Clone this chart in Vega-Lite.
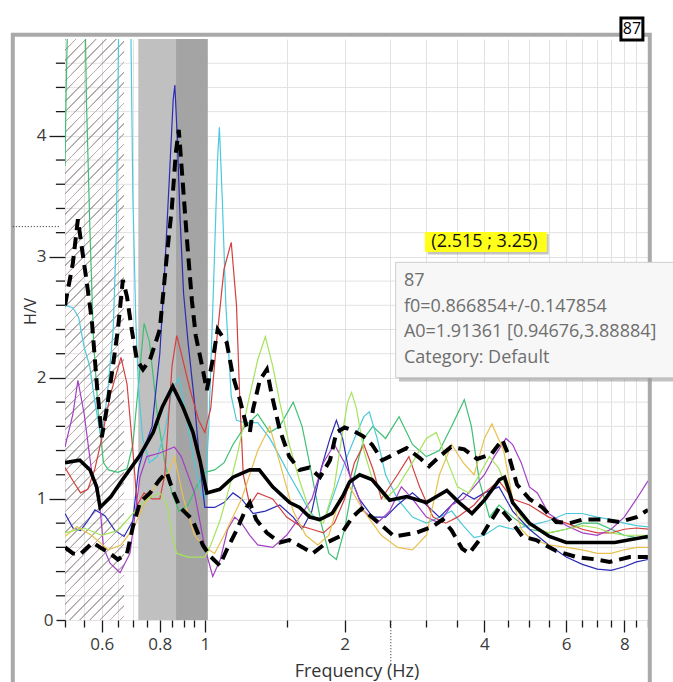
{
"$schema": "https://vega.github.io/schema/vega-lite/v6.json",
"width": 583, "height": 581,
"autosize": {"type": "none"},
"padding": {"left": 65, "top": 39, "right": 25, "bottom": 62},
"background": "white",
"config": {"view": {"stroke": null}, "font": "Open Sans", "axis": {"labelOverlap": false}},
"datasets": {
"yminor": [{"v":0.2},{"v":0.4},{"v":0.6},{"v":0.8},{"v":1.2},{"v":1.4},{"v":1.6},{"v":1.8},{"v":2.2},{"v":2.4},{"v":2.6},{"v":2.8},{"v":3.2},{"v":3.4},{"v":3.6},{"v":3.8},{"v":4.2},{"v":4.4},{"v":4.6}],
"curves": [
{"s":"green","f":0.5,"v":3.75},{"s":"green","f":0.503,"v":4.4},{"s":"green","f":0.51,"v":5.5},{"s":"green","f":0.55,"v":5.5},{"s":"green","f":0.556,"v":4.3},{"s":"green","f":0.566,"v":3.2},{"s":"green","f":0.576,"v":2.3},{"s":"green","f":0.59,"v":1.7},{"s":"green","f":0.605,"v":1.3},{"s":"green","f":0.62,"v":1.24},{"s":"green","f":0.65,"v":1.22},{"s":"green","f":0.68,"v":1.25},{"s":"green","f":0.7,"v":1.45},{"s":"green","f":0.72,"v":1.95},{"s":"green","f":0.74,"v":2.45},{"s":"green","f":0.76,"v":2.3},{"s":"green","f":0.79,"v":1.7},{"s":"green","f":0.82,"v":1.3},{"s":"green","f":0.85,"v":1.05},{"s":"green","f":0.88,"v":0.9},{"s":"green","f":0.92,"v":0.95},{"s":"green","f":0.96,"v":1.1},{"s":"green","f":1.0,"v":1.22},{"s":"green","f":1.05,"v":1.24},{"s":"green","f":1.1,"v":1.3},{"s":"green","f":1.15,"v":1.45},{"s":"green","f":1.22,"v":1.6},{"s":"green","f":1.3,"v":1.7},{"s":"green","f":1.38,"v":1.55},{"s":"green","f":1.45,"v":1.6},{"s":"green","f":1.55,"v":1.8},{"s":"green","f":1.62,"v":1.6},{"s":"green","f":1.7,"v":1.2},{"s":"green","f":1.78,"v":0.8},{"s":"green","f":1.85,"v":0.55},{"s":"green","f":1.92,"v":0.5},{"s":"green","f":2.0,"v":0.75},{"s":"green","f":2.1,"v":1.2},{"s":"green","f":2.2,"v":1.5},{"s":"green","f":2.3,"v":1.6},{"s":"green","f":2.45,"v":1.5},{"s":"green","f":2.62,"v":1.68},{"s":"green","f":2.8,"v":1.45},{"s":"green","f":3.0,"v":1.35},{"s":"green","f":3.2,"v":1.4},{"s":"green","f":3.4,"v":1.6},{"s":"green","f":3.62,"v":1.82},{"s":"green","f":3.75,"v":1.6},{"s":"green","f":3.9,"v":1.15},{"s":"green","f":4.1,"v":0.85},{"s":"green","f":4.3,"v":0.95},{"s":"green","f":4.6,"v":0.85},{"s":"green","f":5.0,"v":0.75},{"s":"green","f":5.5,"v":0.72},{"s":"green","f":6.0,"v":0.75},{"s":"green","f":6.5,"v":0.8},{"s":"green","f":7.0,"v":0.8},{"s":"green","f":7.5,"v":0.75},{"s":"green","f":8.0,"v":0.7},{"s":"green","f":8.5,"v":0.68},{"s":"green","f":9.0,"v":0.67},
{"s":"cyan","f":0.5,"v":2.6},{"s":"cyan","f":0.52,"v":2.58},{"s":"cyan","f":0.535,"v":2.5},{"s":"cyan","f":0.55,"v":2.25},{"s":"cyan","f":0.565,"v":2.1},{"s":"cyan","f":0.58,"v":1.8},{"s":"cyan","f":0.595,"v":1.55},{"s":"cyan","f":0.605,"v":1.6},{"s":"cyan","f":0.62,"v":1.95},{"s":"cyan","f":0.635,"v":2.4},{"s":"cyan","f":0.645,"v":3.2},{"s":"cyan","f":0.655,"v":5.5},{"s":"cyan","f":0.69,"v":5.5},{"s":"cyan","f":0.7,"v":3.5},{"s":"cyan","f":0.71,"v":2.5},{"s":"cyan","f":0.72,"v":1.9},{"s":"cyan","f":0.735,"v":1.5},{"s":"cyan","f":0.76,"v":1.3},{"s":"cyan","f":0.79,"v":1.35},{"s":"cyan","f":0.82,"v":1.55},{"s":"cyan","f":0.85,"v":1.9},{"s":"cyan","f":0.88,"v":2.0},{"s":"cyan","f":0.91,"v":1.7},{"s":"cyan","f":0.95,"v":1.3},{"s":"cyan","f":0.98,"v":1.05},{"s":"cyan","f":1.0,"v":1.0},{"s":"cyan","f":1.02,"v":1.6},{"s":"cyan","f":1.045,"v":2.8},{"s":"cyan","f":1.065,"v":3.8},{"s":"cyan","f":1.075,"v":4.07},{"s":"cyan","f":1.09,"v":3.5},{"s":"cyan","f":1.11,"v":2.6},{"s":"cyan","f":1.14,"v":1.85},{"s":"cyan","f":1.17,"v":1.65},{"s":"cyan","f":1.22,"v":1.63},{"s":"cyan","f":1.3,"v":1.63},{"s":"cyan","f":1.38,"v":1.5},{"s":"cyan","f":1.45,"v":1.35},{"s":"cyan","f":1.52,"v":1.2},{"s":"cyan","f":1.6,"v":1.05},{"s":"cyan","f":1.68,"v":0.9},{"s":"cyan","f":1.75,"v":0.82},{"s":"cyan","f":1.82,"v":0.85},{"s":"cyan","f":1.9,"v":1.05},{"s":"cyan","f":2.0,"v":1.3},{"s":"cyan","f":2.1,"v":1.5},{"s":"cyan","f":2.2,"v":1.68},{"s":"cyan","f":2.26,"v":1.72},{"s":"cyan","f":2.35,"v":1.5},{"s":"cyan","f":2.45,"v":1.2},{"s":"cyan","f":2.6,"v":1.0},{"s":"cyan","f":2.8,"v":0.85},{"s":"cyan","f":3.0,"v":0.8},{"s":"cyan","f":3.2,"v":0.85},{"s":"cyan","f":3.4,"v":0.9},{"s":"cyan","f":3.6,"v":0.78},{"s":"cyan","f":3.8,"v":0.68},{"s":"cyan","f":4.0,"v":0.7},{"s":"cyan","f":4.3,"v":0.78},{"s":"cyan","f":4.6,"v":0.75},{"s":"cyan","f":5.0,"v":0.78},{"s":"cyan","f":5.5,"v":0.82},{"s":"cyan","f":6.0,"v":0.88},{"s":"cyan","f":6.5,"v":0.88},{"s":"cyan","f":7.0,"v":0.85},{"s":"cyan","f":7.5,"v":0.83},{"s":"cyan","f":8.0,"v":0.8},{"s":"cyan","f":8.5,"v":0.78},{"s":"cyan","f":9.0,"v":0.77},
{"s":"blue","f":0.5,"v":0.88},{"s":"blue","f":0.52,"v":0.76},{"s":"blue","f":0.54,"v":0.74},{"s":"blue","f":0.56,"v":0.82},{"s":"blue","f":0.58,"v":0.91},{"s":"blue","f":0.61,"v":0.86},{"s":"blue","f":0.64,"v":0.74},{"s":"blue","f":0.67,"v":0.69},{"s":"blue","f":0.7,"v":0.82},{"s":"blue","f":0.72,"v":1.25},{"s":"blue","f":0.74,"v":1.42},{"s":"blue","f":0.77,"v":1.6},{"s":"blue","f":0.8,"v":2.2},{"s":"blue","f":0.82,"v":2.9},{"s":"blue","f":0.84,"v":3.7},{"s":"blue","f":0.855,"v":4.3},{"s":"blue","f":0.862,"v":4.42},{"s":"blue","f":0.872,"v":4.0},{"s":"blue","f":0.885,"v":3.3},{"s":"blue","f":0.9,"v":2.7},{"s":"blue","f":0.92,"v":2.3},{"s":"blue","f":0.95,"v":1.8},{"s":"blue","f":0.975,"v":1.3},{"s":"blue","f":1.0,"v":0.93},{"s":"blue","f":1.05,"v":0.93},{"s":"blue","f":1.1,"v":0.97},{"s":"blue","f":1.15,"v":1.05},{"s":"blue","f":1.2,"v":1.0},{"s":"blue","f":1.27,"v":0.88},{"s":"blue","f":1.35,"v":0.9},{"s":"blue","f":1.45,"v":0.95},{"s":"blue","f":1.55,"v":0.85},{"s":"blue","f":1.62,"v":0.75},{"s":"blue","f":1.7,"v":0.9},{"s":"blue","f":1.78,"v":1.25},{"s":"blue","f":1.86,"v":1.5},{"s":"blue","f":1.92,"v":1.65},{"s":"blue","f":1.98,"v":1.5},{"s":"blue","f":2.05,"v":1.2},{"s":"blue","f":2.15,"v":1.0},{"s":"blue","f":2.3,"v":0.85},{"s":"blue","f":2.45,"v":0.85},{"s":"blue","f":2.6,"v":0.95},{"s":"blue","f":2.8,"v":1.05},{"s":"blue","f":3.0,"v":0.95},{"s":"blue","f":3.2,"v":0.85},{"s":"blue","f":3.4,"v":0.95},{"s":"blue","f":3.6,"v":1.05},{"s":"blue","f":3.8,"v":1.0},{"s":"blue","f":4.0,"v":1.05},{"s":"blue","f":4.3,"v":1.1},{"s":"blue","f":4.6,"v":0.9},{"s":"blue","f":5.0,"v":0.75},{"s":"blue","f":5.5,"v":0.62},{"s":"blue","f":6.0,"v":0.52},{"s":"blue","f":6.5,"v":0.46},{"s":"blue","f":7.0,"v":0.42},{"s":"blue","f":7.5,"v":0.41},{"s":"blue","f":8.0,"v":0.44},{"s":"blue","f":8.5,"v":0.48},{"s":"blue","f":9.0,"v":0.5},
{"s":"red","f":0.5,"v":1.26},{"s":"red","f":0.52,"v":1.15},{"s":"red","f":0.54,"v":1.05},{"s":"red","f":0.56,"v":1.08},{"s":"red","f":0.58,"v":1.25},{"s":"red","f":0.6,"v":1.5},{"s":"red","f":0.625,"v":1.85},{"s":"red","f":0.66,"v":2.17},{"s":"red","f":0.68,"v":1.95},{"s":"red","f":0.7,"v":1.4},{"s":"red","f":0.715,"v":0.95},{"s":"red","f":0.74,"v":1.05},{"s":"red","f":0.77,"v":1.0},{"s":"red","f":0.8,"v":1.0},{"s":"red","f":0.82,"v":1.2},{"s":"red","f":0.85,"v":2.1},{"s":"red","f":0.87,"v":2.35},{"s":"red","f":0.89,"v":2.2},{"s":"red","f":0.93,"v":1.9},{"s":"red","f":0.97,"v":1.65},{"s":"red","f":1.0,"v":1.55},{"s":"red","f":1.03,"v":1.75},{"s":"red","f":1.06,"v":2.3},{"s":"red","f":1.1,"v":2.9},{"s":"red","f":1.14,"v":3.12},{"s":"red","f":1.17,"v":2.6},{"s":"red","f":1.19,"v":1.8},{"s":"red","f":1.21,"v":1.2},{"s":"red","f":1.25,"v":0.95},{"s":"red","f":1.3,"v":1.05},{"s":"red","f":1.4,"v":1.0},{"s":"red","f":1.5,"v":0.85},{"s":"red","f":1.6,"v":0.78},{"s":"red","f":1.7,"v":0.75},{"s":"red","f":1.8,"v":0.72},{"s":"red","f":1.9,"v":0.8},{"s":"red","f":2.0,"v":1.0},{"s":"red","f":2.1,"v":1.3},{"s":"red","f":2.2,"v":1.45},{"s":"red","f":2.3,"v":1.25},{"s":"red","f":2.4,"v":1.0},{"s":"red","f":2.6,"v":1.2},{"s":"red","f":2.75,"v":1.35},{"s":"red","f":2.9,"v":1.1},{"s":"red","f":3.1,"v":0.85},{"s":"red","f":3.3,"v":0.8},{"s":"red","f":3.5,"v":0.85},{"s":"red","f":3.8,"v":0.95},{"s":"red","f":4.0,"v":1.05},{"s":"red","f":4.3,"v":1.15},{"s":"red","f":4.6,"v":1.0},{"s":"red","f":5.0,"v":0.95},{"s":"red","f":5.5,"v":0.85},{"s":"red","f":6.0,"v":0.8},{"s":"red","f":6.5,"v":0.75},{"s":"red","f":7.0,"v":0.72},{"s":"red","f":7.5,"v":0.72},{"s":"red","f":8.0,"v":0.75},{"s":"red","f":8.5,"v":0.76},{"s":"red","f":9.0,"v":0.75},
{"s":"purple","f":0.5,"v":1.43},{"s":"purple","f":0.52,"v":1.7},{"s":"purple","f":0.533,"v":1.98},{"s":"purple","f":0.55,"v":1.7},{"s":"purple","f":0.57,"v":1.24},{"s":"purple","f":0.595,"v":0.93},{"s":"purple","f":0.605,"v":0.6},{"s":"purple","f":0.625,"v":0.47},{"s":"purple","f":0.657,"v":0.39},{"s":"purple","f":0.69,"v":0.55},{"s":"purple","f":0.725,"v":1.18},{"s":"purple","f":0.75,"v":1.35},{"s":"purple","f":0.8,"v":1.38},{"s":"purple","f":0.86,"v":1.43},{"s":"purple","f":0.89,"v":1.35},{"s":"purple","f":0.95,"v":1.05},{"s":"purple","f":1.0,"v":0.6},{"s":"purple","f":1.04,"v":0.36},{"s":"purple","f":1.08,"v":0.5},{"s":"purple","f":1.12,"v":0.75},{"s":"purple","f":1.16,"v":0.85},{"s":"purple","f":1.2,"v":0.8},{"s":"purple","f":1.25,"v":0.7},{"s":"purple","f":1.3,"v":0.62},{"s":"purple","f":1.4,"v":0.6},{"s":"purple","f":1.5,"v":0.7},{"s":"purple","f":1.6,"v":0.85},{"s":"purple","f":1.7,"v":1.0},{"s":"purple","f":1.8,"v":1.3},{"s":"purple","f":1.9,"v":1.45},{"s":"purple","f":2.0,"v":1.3},{"s":"purple","f":2.1,"v":1.1},{"s":"purple","f":2.2,"v":0.9},{"s":"purple","f":2.35,"v":0.8},{"s":"purple","f":2.5,"v":0.9},{"s":"purple","f":2.65,"v":1.1},{"s":"purple","f":2.8,"v":1.0},{"s":"purple","f":3.0,"v":0.85},{"s":"purple","f":3.2,"v":0.8},{"s":"purple","f":3.4,"v":0.95},{"s":"purple","f":3.6,"v":1.0},{"s":"purple","f":3.8,"v":1.1},{"s":"purple","f":4.0,"v":1.2},{"s":"purple","f":4.2,"v":1.35},{"s":"purple","f":4.45,"v":1.5},{"s":"purple","f":4.6,"v":1.45},{"s":"purple","f":4.8,"v":1.3},{"s":"purple","f":5.0,"v":1.1},{"s":"purple","f":5.2,"v":1.05},{"s":"purple","f":5.5,"v":0.88},{"s":"purple","f":6.0,"v":0.78},{"s":"purple","f":6.5,"v":0.72},{"s":"purple","f":7.0,"v":0.7},{"s":"purple","f":7.5,"v":0.75},{"s":"purple","f":8.0,"v":0.85},{"s":"purple","f":8.5,"v":1.0},{"s":"purple","f":9.0,"v":1.15},
{"s":"yellow","f":0.5,"v":0.69},{"s":"yellow","f":0.53,"v":0.77},{"s":"yellow","f":0.57,"v":0.7},{"s":"yellow","f":0.62,"v":0.58},{"s":"yellow","f":0.66,"v":0.62},{"s":"yellow","f":0.7,"v":0.75},{"s":"yellow","f":0.74,"v":0.95},{"s":"yellow","f":0.78,"v":1.1},{"s":"yellow","f":0.83,"v":1.2},{"s":"yellow","f":0.86,"v":1.35},{"s":"yellow","f":0.9,"v":1.0},{"s":"yellow","f":0.95,"v":0.7},{"s":"yellow","f":1.0,"v":0.6},{"s":"yellow","f":1.05,"v":0.55},{"s":"yellow","f":1.1,"v":0.7},{"s":"yellow","f":1.2,"v":1.0},{"s":"yellow","f":1.3,"v":1.4},{"s":"yellow","f":1.38,"v":1.6},{"s":"yellow","f":1.45,"v":1.3},{"s":"yellow","f":1.55,"v":0.9},{"s":"yellow","f":1.65,"v":0.7},{"s":"yellow","f":1.75,"v":0.62},{"s":"yellow","f":1.85,"v":0.7},{"s":"yellow","f":1.95,"v":1.0},{"s":"yellow","f":2.05,"v":1.1},{"s":"yellow","f":2.2,"v":0.9},{"s":"yellow","f":2.4,"v":0.7},{"s":"yellow","f":2.6,"v":0.6},{"s":"yellow","f":2.8,"v":0.58},{"s":"yellow","f":3.0,"v":0.7},{"s":"yellow","f":3.2,"v":1.2},{"s":"yellow","f":3.4,"v":1.45},{"s":"yellow","f":3.6,"v":1.3},{"s":"yellow","f":3.8,"v":1.2},{"s":"yellow","f":4.0,"v":1.5},{"s":"yellow","f":4.15,"v":1.62},{"s":"yellow","f":4.4,"v":1.4},{"s":"yellow","f":4.6,"v":1.0},{"s":"yellow","f":4.8,"v":0.75},{"s":"yellow","f":5.0,"v":0.68},{"s":"yellow","f":5.5,"v":0.62},{"s":"yellow","f":6.0,"v":0.6},{"s":"yellow","f":6.5,"v":0.58},{"s":"yellow","f":7.0,"v":0.55},{"s":"yellow","f":7.5,"v":0.55},{"s":"yellow","f":8.0,"v":0.58},{"s":"yellow","f":8.5,"v":0.6},{"s":"yellow","f":9.0,"v":0.6},
{"s":"lime","f":0.5,"v":0.72},{"s":"lime","f":0.55,"v":0.76},{"s":"lime","f":0.6,"v":0.7},{"s":"lime","f":0.65,"v":0.74},{"s":"lime","f":0.7,"v":0.88},{"s":"lime","f":0.75,"v":1.0},{"s":"lime","f":0.8,"v":1.05},{"s":"lime","f":0.83,"v":0.95},{"s":"lime","f":0.85,"v":0.7},{"s":"lime","f":0.87,"v":0.55},{"s":"lime","f":0.92,"v":0.52},{"s":"lime","f":1.0,"v":0.52},{"s":"lime","f":1.03,"v":0.62},{"s":"lime","f":1.08,"v":0.83},{"s":"lime","f":1.13,"v":1.1},{"s":"lime","f":1.18,"v":1.4},{"s":"lime","f":1.24,"v":1.8},{"s":"lime","f":1.3,"v":2.15},{"s":"lime","f":1.35,"v":2.34},{"s":"lime","f":1.4,"v":2.1},{"s":"lime","f":1.45,"v":1.8},{"s":"lime","f":1.52,"v":1.45},{"s":"lime","f":1.6,"v":1.15},{"s":"lime","f":1.7,"v":0.85},{"s":"lime","f":1.8,"v":0.8},{"s":"lime","f":1.9,"v":1.1},{"s":"lime","f":1.97,"v":1.5},{"s":"lime","f":2.03,"v":1.8},{"s":"lime","f":2.07,"v":1.88},{"s":"lime","f":2.12,"v":1.75},{"s":"lime","f":2.2,"v":1.4},{"s":"lime","f":2.3,"v":1.15},{"s":"lime","f":2.45,"v":1.0},{"s":"lime","f":2.6,"v":1.1},{"s":"lime","f":2.8,"v":1.3},{"s":"lime","f":3.0,"v":1.5},{"s":"lime","f":3.15,"v":1.55},{"s":"lime","f":3.3,"v":1.35},{"s":"lime","f":3.5,"v":1.1},{"s":"lime","f":3.7,"v":1.05},{"s":"lime","f":3.9,"v":1.2},{"s":"lime","f":4.1,"v":1.35},{"s":"lime","f":4.3,"v":1.25},{"s":"lime","f":4.5,"v":1.05},{"s":"lime","f":4.8,"v":0.85},{"s":"lime","f":5.0,"v":0.78},{"s":"lime","f":5.5,"v":0.72},{"s":"lime","f":6.0,"v":0.75},{"s":"lime","f":6.5,"v":0.78},{"s":"lime","f":7.0,"v":0.76},{"s":"lime","f":7.5,"v":0.72},{"s":"lime","f":8.0,"v":0.7},{"s":"lime","f":8.5,"v":0.7},{"s":"lime","f":9.0,"v":0.7}
],
"mean": [
{"f":0.5,"v":1.3},{"f":0.538,"v":1.32},{"f":0.566,"v":1.24},{"f":0.585,"v":1.1},{"f":0.595,"v":0.93},{"f":0.628,"v":1.02},{"f":0.665,"v":1.16},{"f":0.725,"v":1.36},{"f":0.774,"v":1.55},{"f":0.81,"v":1.76},{"f":0.853,"v":1.93},{"f":0.897,"v":1.76},{"f":0.943,"v":1.55},{"f":0.976,"v":1.32},{"f":1.01,"v":1.05},{"f":1.077,"v":1.08},{"f":1.15,"v":1.18},{"f":1.25,"v":1.24},{"f":1.31,"v":1.24},{"f":1.4,"v":1.1},{"f":1.523,"v":0.97},{"f":1.6,"v":0.93},{"f":1.682,"v":0.85},{"f":1.768,"v":0.83},{"f":1.88,"v":0.88},{"f":1.98,"v":1.02},{"f":2.05,"v":1.14},{"f":2.155,"v":1.2},{"f":2.29,"v":1.16},{"f":2.5,"v":0.99},{"f":2.72,"v":1.02},{"f":3.0,"v":0.97},{"f":3.32,"v":1.07},{"f":3.53,"v":0.97},{"f":3.76,"v":0.88},{"f":4.0,"v":0.99},{"f":4.31,"v":1.16},{"f":4.42,"v":1.18},{"f":4.6,"v":0.97},{"f":5.0,"v":0.8},{"f":5.52,"v":0.69},{"f":6.0,"v":0.64},{"f":6.73,"v":0.64},{"f":7.63,"v":0.64},{"f":9.0,"v":0.69}
],
"upper": [
{"f":0.5,"v":2.6},{"f":0.52,"v":2.95},{"f":0.533,"v":3.31},{"f":0.547,"v":3.0},{"f":0.557,"v":2.79},{"f":0.571,"v":2.48},{"f":0.586,"v":1.93},{"f":0.6,"v":1.51},{"f":0.616,"v":1.76},{"f":0.631,"v":2.04},{"f":0.65,"v":2.4},{"f":0.666,"v":2.81},{"f":0.68,"v":2.67},{"f":0.696,"v":2.4},{"f":0.714,"v":2.15},{"f":0.736,"v":2.07},{"f":0.762,"v":2.15},{"f":0.8,"v":2.4},{"f":0.828,"v":3.0},{"f":0.849,"v":3.4},{"f":0.866,"v":3.86},{"f":0.879,"v":4.05},{"f":0.897,"v":3.6},{"f":0.915,"v":3.15},{"f":0.938,"v":2.64},{"f":0.956,"v":2.35},{"f":0.99,"v":2.07},{"f":1.01,"v":1.9},{"f":1.04,"v":2.15},{"f":1.066,"v":2.4},{"f":1.115,"v":2.29},{"f":1.149,"v":2.02},{"f":1.19,"v":1.82},{"f":1.23,"v":1.6},{"f":1.25,"v":1.55},{"f":1.27,"v":1.74},{"f":1.313,"v":1.98},{"f":1.36,"v":2.07},{"f":1.39,"v":1.88},{"f":1.45,"v":1.57},{"f":1.52,"v":1.35},{"f":1.6,"v":1.24},{"f":1.68,"v":1.26},{"f":1.77,"v":1.18},{"f":1.86,"v":1.32},{"f":1.92,"v":1.55},{"f":2.0,"v":1.59},{"f":2.07,"v":1.57},{"f":2.19,"v":1.52},{"f":2.29,"v":1.45},{"f":2.41,"v":1.32},{"f":2.56,"v":1.37},{"f":2.72,"v":1.42},{"f":2.9,"v":1.34},{"f":3.04,"v":1.27},{"f":3.2,"v":1.35},{"f":3.39,"v":1.43},{"f":3.62,"v":1.41},{"f":3.86,"v":1.33},{"f":4.14,"v":1.37},{"f":4.37,"v":1.49},{"f":4.52,"v":1.35},{"f":4.7,"v":1.12},{"f":5.0,"v":1.0},{"f":5.33,"v":0.93},{"f":5.71,"v":0.81},{"f":6.1,"v":0.8},{"f":6.52,"v":0.83},{"f":7.17,"v":0.83},{"f":7.82,"v":0.81},{"f":8.5,"v":0.85},{"f":9.0,"v":0.91}
],
"lower": [
{"f":0.5,"v":0.6},{"f":0.52,"v":0.55},{"f":0.538,"v":0.54},{"f":0.574,"v":0.64},{"f":0.595,"v":0.6},{"f":0.625,"v":0.55},{"f":0.65,"v":0.5},{"f":0.68,"v":0.55},{"f":0.7,"v":0.77},{"f":0.725,"v":0.97},{"f":0.762,"v":1.05},{"f":0.8,"v":1.16},{"f":0.828,"v":1.22},{"f":0.853,"v":1.07},{"f":0.884,"v":0.93},{"f":0.94,"v":0.83},{"f":0.99,"v":0.62},{"f":1.025,"v":0.53},{"f":1.077,"v":0.45},{"f":1.115,"v":0.58},{"f":1.17,"v":0.74},{"f":1.23,"v":0.93},{"f":1.25,"v":0.97},{"f":1.29,"v":0.83},{"f":1.36,"v":0.72},{"f":1.45,"v":0.64},{"f":1.52,"v":0.66},{"f":1.625,"v":0.6},{"f":1.707,"v":0.55},{"f":1.83,"v":0.64},{"f":1.95,"v":0.69},{"f":2.08,"v":0.85},{"f":2.175,"v":0.92},{"f":2.29,"v":0.85},{"f":2.44,"v":0.76},{"f":2.56,"v":0.69},{"f":2.85,"v":0.72},{"f":3.09,"v":0.77},{"f":3.25,"v":0.83},{"f":3.4,"v":0.74},{"f":3.58,"v":0.59},{"f":3.71,"v":0.55},{"f":3.9,"v":0.66},{"f":4.1,"v":0.8},{"f":4.31,"v":0.93},{"f":4.6,"v":0.8},{"f":4.83,"v":0.69},{"f":5.17,"v":0.66},{"f":5.71,"v":0.57},{"f":6.32,"v":0.52},{"f":6.97,"v":0.5},{"f":7.44,"v":0.48},{"f":8.22,"v":0.52},{"f":9.0,"v":0.52}
]
},
"layer": [
{
"data": {"name": "yminor"},
"mark": {"type": "rule", "stroke": "#e2e2e2", "strokeWidth": 1},
"encoding": {
"x": {"datum": 0.5, "type": "quantitative",
"scale": {"type": "log", "domain": [0.5, 9], "nice": false},
"axis": {"title": "Frequency (Hz)",
"values": [0.5,0.55,0.6,0.65,0.7,0.75,0.8,0.85,0.9,0.95,1,1.5,2,2.5,3,3.5,4,4.5,5,5.5,6,6.5,7,7.5,8,8.5,9],
"labelExpr": "indexof([0.6,0.8,1,2,4,6,8], datum.value) >= 0 ? format(datum.value, '~g') : ''",
"tickSize": {"condition": {"test": "indexof([0.6,0.8,1,2,4,6,8], datum.value) >= 0", "value": 12}, "value": 7},
"domain": false, "grid": true, "gridColor": "#e2e2e2", "gridWidth": 1,
"tickColor": "#1a1a1a", "tickWidth": 1.3,
"labelColor": "#3a3a3a", "labelFontSize": 17, "labelFont": "Open Sans", "labelOverlap": false, "labelFlush": false, "labelPadding": 4,
"titleFont": "Open Sans", "titleFontSize": 18, "titleFontWeight": "normal", "titleColor": "#333333", "titlePadding": 10}},
"x2": {"datum": 9},
"y": {"field": "v", "type": "quantitative",
"scale": {"domain": [0, 4.8], "nice": false, "zero": false},
"axis": {"title": "H/V",
"values": [0, 1, 2, 3, 4],
"format": "d",
"tickSize": {"condition": {"test": "datum.value > 0", "value": 16}, "value": 9},
"domain": false, "grid": true, "gridColor": "#e2e2e2", "gridWidth": 1,
"tickColor": "#1a1a1a", "tickWidth": 1.3,
"labelColor": "#3a3a3a", "labelFontSize": 17, "labelFont": "Open Sans", "labelPadding": 3, "labelOverlap": false, "labelFlush": false,
"titleFont": "Open Sans", "titleFontSize": 16, "titleFontWeight": "normal", "titleColor": "#333333", "titleX": -27, "titleY": 272, "titleAngle": -90, "titleBaseline": "bottom", "titleAlign": "center"}}
}
},
{
"data": {"name": "yminor"},
"mark": {"type": "rule", "stroke": "#1a1a1a", "strokeWidth": 1.3, "clip": false},
"encoding": {"x": {"datum": 0.4779, "type": "quantitative"}, "x2": {"datum": 0.5}, "y": {"field": "v", "type": "quantitative"}}
},
{
"data": {"values": [{}]},
"mark": {"type": "rect", "fill": {"gradient": "linear", "x1": 0, "y1": 0, "x2": 0.113, "y2": 1.092, "stops": [
{"offset":0,"color":"rgba(0,0,0,0)"},{"offset":0.0015,"color":"#c9b0b0"},{"offset":0.003,"color":"rgba(0,0,0,0)"},
{"offset":0.016,"color":"rgba(0,0,0,0)"},{"offset":0.0175,"color":"#c9b0b0"},{"offset":0.019,"color":"rgba(0,0,0,0)"},
{"offset":0.032,"color":"rgba(0,0,0,0)"},{"offset":0.0335,"color":"#c9b0b0"},{"offset":0.035,"color":"rgba(0,0,0,0)"},
{"offset":0.048,"color":"rgba(0,0,0,0)"},{"offset":0.0495,"color":"#c9b0b0"},{"offset":0.051,"color":"rgba(0,0,0,0)"},
{"offset":0.064,"color":"rgba(0,0,0,0)"},{"offset":0.0655,"color":"#c9b0b0"},{"offset":0.067,"color":"rgba(0,0,0,0)"},
{"offset":0.08,"color":"rgba(0,0,0,0)"},{"offset":0.0815,"color":"#c9b0b0"},{"offset":0.083,"color":"rgba(0,0,0,0)"},
{"offset":0.096,"color":"rgba(0,0,0,0)"},{"offset":0.0975,"color":"#c9b0b0"},{"offset":0.099,"color":"rgba(0,0,0,0)"},
{"offset":0.112,"color":"rgba(0,0,0,0)"},{"offset":0.1135,"color":"#c9b0b0"},{"offset":0.115,"color":"rgba(0,0,0,0)"},
{"offset":0.128,"color":"rgba(0,0,0,0)"},{"offset":0.1295,"color":"#c9b0b0"},{"offset":0.131,"color":"rgba(0,0,0,0)"},
{"offset":0.144,"color":"rgba(0,0,0,0)"},{"offset":0.1455,"color":"#c9b0b0"},{"offset":0.147,"color":"rgba(0,0,0,0)"},
{"offset":0.16,"color":"rgba(0,0,0,0)"},{"offset":0.1615,"color":"#c9b0b0"},{"offset":0.163,"color":"rgba(0,0,0,0)"},
{"offset":0.176,"color":"rgba(0,0,0,0)"},{"offset":0.1775,"color":"#c9b0b0"},{"offset":0.179,"color":"rgba(0,0,0,0)"},
{"offset":0.192,"color":"rgba(0,0,0,0)"},{"offset":0.1935,"color":"#c9b0b0"},{"offset":0.195,"color":"rgba(0,0,0,0)"},
{"offset":0.208,"color":"rgba(0,0,0,0)"},{"offset":0.2095,"color":"#c9b0b0"},{"offset":0.211,"color":"rgba(0,0,0,0)"},
{"offset":0.224,"color":"rgba(0,0,0,0)"},{"offset":0.2255,"color":"#c9b0b0"},{"offset":0.227,"color":"rgba(0,0,0,0)"},
{"offset":0.24,"color":"rgba(0,0,0,0)"},{"offset":0.2415,"color":"#c9b0b0"},{"offset":0.243,"color":"rgba(0,0,0,0)"},
{"offset":0.256,"color":"rgba(0,0,0,0)"},{"offset":0.2575,"color":"#c9b0b0"},{"offset":0.259,"color":"rgba(0,0,0,0)"},
{"offset":0.272,"color":"rgba(0,0,0,0)"},{"offset":0.2735,"color":"#c9b0b0"},{"offset":0.275,"color":"rgba(0,0,0,0)"},
{"offset":0.288,"color":"rgba(0,0,0,0)"},{"offset":0.2895,"color":"#c9b0b0"},{"offset":0.291,"color":"rgba(0,0,0,0)"},
{"offset":0.304,"color":"rgba(0,0,0,0)"},{"offset":0.3055,"color":"#c9b0b0"},{"offset":0.307,"color":"rgba(0,0,0,0)"},
{"offset":0.32,"color":"rgba(0,0,0,0)"},{"offset":0.3215,"color":"#c9b0b0"},{"offset":0.323,"color":"rgba(0,0,0,0)"},
{"offset":0.336,"color":"rgba(0,0,0,0)"},{"offset":0.3375,"color":"#c9b0b0"},{"offset":0.339,"color":"rgba(0,0,0,0)"},
{"offset":0.352,"color":"rgba(0,0,0,0)"},{"offset":0.3535,"color":"#c9b0b0"},{"offset":0.355,"color":"rgba(0,0,0,0)"},
{"offset":0.368,"color":"rgba(0,0,0,0)"},{"offset":0.3695,"color":"#c9b0b0"},{"offset":0.371,"color":"rgba(0,0,0,0)"},
{"offset":0.384,"color":"rgba(0,0,0,0)"},{"offset":0.3855,"color":"#c9b0b0"},{"offset":0.387,"color":"rgba(0,0,0,0)"},
{"offset":0.4,"color":"rgba(0,0,0,0)"},{"offset":0.4015,"color":"#c9b0b0"},{"offset":0.403,"color":"rgba(0,0,0,0)"},
{"offset":0.416,"color":"rgba(0,0,0,0)"},{"offset":0.4175,"color":"#c9b0b0"},{"offset":0.419,"color":"rgba(0,0,0,0)"},
{"offset":0.432,"color":"rgba(0,0,0,0)"},{"offset":0.4335,"color":"#c9b0b0"},{"offset":0.435,"color":"rgba(0,0,0,0)"},
{"offset":0.448,"color":"rgba(0,0,0,0)"},{"offset":0.4495,"color":"#c9b0b0"},{"offset":0.451,"color":"rgba(0,0,0,0)"},
{"offset":0.464,"color":"rgba(0,0,0,0)"},{"offset":0.4655,"color":"#c9b0b0"},{"offset":0.467,"color":"rgba(0,0,0,0)"},
{"offset":0.48,"color":"rgba(0,0,0,0)"},{"offset":0.4815,"color":"#c9b0b0"},{"offset":0.483,"color":"rgba(0,0,0,0)"},
{"offset":0.496,"color":"rgba(0,0,0,0)"},{"offset":0.4975,"color":"#c9b0b0"},{"offset":0.499,"color":"rgba(0,0,0,0)"},
{"offset":0.512,"color":"rgba(0,0,0,0)"},{"offset":0.5135,"color":"#c9b0b0"},{"offset":0.515,"color":"rgba(0,0,0,0)"},
{"offset":0.528,"color":"rgba(0,0,0,0)"},{"offset":0.5295,"color":"#c9b0b0"},{"offset":0.531,"color":"rgba(0,0,0,0)"},
{"offset":0.544,"color":"rgba(0,0,0,0)"},{"offset":0.5455,"color":"#c9b0b0"},{"offset":0.547,"color":"rgba(0,0,0,0)"},
{"offset":0.56,"color":"rgba(0,0,0,0)"},{"offset":0.5615,"color":"#c9b0b0"},{"offset":0.563,"color":"rgba(0,0,0,0)"},
{"offset":0.576,"color":"rgba(0,0,0,0)"},{"offset":0.5775,"color":"#c9b0b0"},{"offset":0.579,"color":"rgba(0,0,0,0)"},
{"offset":0.592,"color":"rgba(0,0,0,0)"},{"offset":0.5935,"color":"#c9b0b0"},{"offset":0.595,"color":"rgba(0,0,0,0)"},
{"offset":0.608,"color":"rgba(0,0,0,0)"},{"offset":0.6095,"color":"#c9b0b0"},{"offset":0.611,"color":"rgba(0,0,0,0)"},
{"offset":0.624,"color":"rgba(0,0,0,0)"},{"offset":0.6255,"color":"#c9b0b0"},{"offset":0.627,"color":"rgba(0,0,0,0)"},
{"offset":0.64,"color":"rgba(0,0,0,0)"},{"offset":0.6415,"color":"#c9b0b0"},{"offset":0.643,"color":"rgba(0,0,0,0)"},
{"offset":0.656,"color":"rgba(0,0,0,0)"},{"offset":0.6575,"color":"#c9b0b0"},{"offset":0.659,"color":"rgba(0,0,0,0)"},
{"offset":0.672,"color":"rgba(0,0,0,0)"},{"offset":0.6735,"color":"#c9b0b0"},{"offset":0.675,"color":"rgba(0,0,0,0)"},
{"offset":0.688,"color":"rgba(0,0,0,0)"},{"offset":0.6895,"color":"#c9b0b0"},{"offset":0.691,"color":"rgba(0,0,0,0)"},
{"offset":0.704,"color":"rgba(0,0,0,0)"},{"offset":0.7055,"color":"#c9b0b0"},{"offset":0.707,"color":"rgba(0,0,0,0)"},
{"offset":0.72,"color":"rgba(0,0,0,0)"},{"offset":0.7215,"color":"#c9b0b0"},{"offset":0.723,"color":"rgba(0,0,0,0)"},
{"offset":0.736,"color":"rgba(0,0,0,0)"},{"offset":0.7375,"color":"#c9b0b0"},{"offset":0.739,"color":"rgba(0,0,0,0)"},
{"offset":0.752,"color":"rgba(0,0,0,0)"},{"offset":0.7535,"color":"#c9b0b0"},{"offset":0.755,"color":"rgba(0,0,0,0)"},
{"offset":0.768,"color":"rgba(0,0,0,0)"},{"offset":0.7695,"color":"#c9b0b0"},{"offset":0.771,"color":"rgba(0,0,0,0)"},
{"offset":0.784,"color":"rgba(0,0,0,0)"},{"offset":0.7855,"color":"#c9b0b0"},{"offset":0.787,"color":"rgba(0,0,0,0)"},
{"offset":0.8,"color":"rgba(0,0,0,0)"},{"offset":0.8015,"color":"#c9b0b0"},{"offset":0.803,"color":"rgba(0,0,0,0)"},
{"offset":0.816,"color":"rgba(0,0,0,0)"},{"offset":0.8175,"color":"#c9b0b0"},{"offset":0.819,"color":"rgba(0,0,0,0)"},
{"offset":0.832,"color":"rgba(0,0,0,0)"},{"offset":0.8335,"color":"#c9b0b0"},{"offset":0.835,"color":"rgba(0,0,0,0)"},
{"offset":0.848,"color":"rgba(0,0,0,0)"},{"offset":0.8495,"color":"#c9b0b0"},{"offset":0.851,"color":"rgba(0,0,0,0)"},
{"offset":0.864,"color":"rgba(0,0,0,0)"},{"offset":0.8655,"color":"#c9b0b0"},{"offset":0.867,"color":"rgba(0,0,0,0)"},
{"offset":0.88,"color":"rgba(0,0,0,0)"},{"offset":0.8815,"color":"#c9b0b0"},{"offset":0.883,"color":"rgba(0,0,0,0)"},
{"offset":0.896,"color":"rgba(0,0,0,0)"},{"offset":0.8975,"color":"#c9b0b0"},{"offset":0.899,"color":"rgba(0,0,0,0)"},
{"offset":0.912,"color":"rgba(0,0,0,0)"},{"offset":0.9135,"color":"#c9b0b0"},{"offset":0.915,"color":"rgba(0,0,0,0)"},
{"offset":0.928,"color":"rgba(0,0,0,0)"},{"offset":0.9295,"color":"#c9b0b0"},{"offset":0.931,"color":"rgba(0,0,0,0)"},
{"offset":0.944,"color":"rgba(0,0,0,0)"},{"offset":0.9455,"color":"#c9b0b0"},{"offset":0.947,"color":"rgba(0,0,0,0)"},
{"offset":0.96,"color":"rgba(0,0,0,0)"},{"offset":0.9615,"color":"#c9b0b0"},{"offset":0.963,"color":"rgba(0,0,0,0)"},
{"offset":0.976,"color":"rgba(0,0,0,0)"},{"offset":0.9775,"color":"#c9b0b0"},{"offset":0.979,"color":"rgba(0,0,0,0)"},
{"offset":0.992,"color":"rgba(0,0,0,0)"},{"offset":0.9935,"color":"#c9b0b0"},{"offset":0.995,"color":"rgba(0,0,0,0)"}
]}},
"encoding": {"x": {"datum": 0.5, "type": "quantitative"}, "x2": {"datum": 0.67}, "y": {"datum": 0, "type": "quantitative"}, "y2": {"datum": 4.8}}
},
{
"data": {"values": [{}]},
"mark": {"type": "rect", "fill": "#c0c0c0"},
"encoding": {"x": {"datum": 0.719, "type": "quantitative"}, "x2": {"datum": 0.867}, "y": {"datum": 0, "type": "quantitative"}, "y2": {"datum": 4.8}}
},
{
"data": {"values": [{}]},
"mark": {"type": "rect", "fill": "#a4a4a4"},
"encoding": {"x": {"datum": 0.867, "type": "quantitative"}, "x2": {"datum": 1.015}, "y": {"datum": 0, "type": "quantitative"}, "y2": {"datum": 4.8}}
},
{
"data": {"name": "curves"},
"mark": {"type": "line", "strokeWidth": 1.2, "clip": true},
"encoding": {
"x": {"field": "f", "type": "quantitative"},
"y": {"field": "v", "type": "quantitative"},
"detail": {"field": "s"},
"color": {"field": "s", "type": "nominal", "legend": null,
"scale": {"domain": ["green","cyan","blue","red","purple","yellow","lime"],
"range": ["#3dbf73","#4dc9dc","#2b2bb5","#d43f3f","#a43fc4","#e9c04f","#a6e35c"]}}
}
},
{
"data": {"name": "mean"},
"mark": {"type": "line", "color": "#000000", "strokeWidth": 3.6, "clip": true},
"encoding": {"x": {"field": "f", "type": "quantitative"}, "y": {"field": "v", "type": "quantitative"}}
},
{
"data": {"name": "upper"},
"mark": {"type": "line", "color": "#000000", "strokeWidth": 4, "strokeDash": [12, 7], "clip": true},
"encoding": {"x": {"field": "f", "type": "quantitative"}, "y": {"field": "v", "type": "quantitative"}}
},
{
"data": {"name": "lower"},
"mark": {"type": "line", "color": "#000000", "strokeWidth": 4, "strokeDash": [12, 7], "clip": true},
"encoding": {"x": {"field": "f", "type": "quantitative"}, "y": {"field": "v", "type": "quantitative"}}
},
{
"data": {"values": [{}]},
"mark": {"type": "rect", "fill": null, "stroke": "#a9a9a9", "strokeWidth": 4, "clip": false},
"encoding": {"x": {"datum": 0.386, "type": "quantitative"}, "x2": {"datum": 9.08}, "y": {"datum": 4.835, "type": "quantitative"}, "y2": {"datum": -0.6}}
},
{
"data": {"values": [{}]},
"mark": {"type": "rule", "stroke": "#222222", "strokeWidth": 1, "strokeDash": [1, 2], "clip": false},
"encoding": {"x": {"datum": 0.386, "type": "quantitative"}, "x2": {"datum": 0.487}, "y": {"datum": 3.25, "type": "quantitative"}}
},
{
"data": {"values": [{}]},
"mark": {"type": "rule", "stroke": "#222222", "strokeWidth": 1, "strokeDash": [1, 2], "clip": false},
"encoding": {"x": {"datum": 2.515, "type": "quantitative"}, "y": {"datum": -0.01, "type": "quantitative"}, "y2": {"datum": -0.38}}
},
{
"data": {"values": [{}]},
"mark": {"type": "rect", "fill": "#8a8a8a", "opacity": 0.5},
"encoding": {"x": {"datum": 3.02, "type": "quantitative"}, "x2": {"datum": 5.5}, "y": {"datum": 3.19, "type": "quantitative"}, "y2": {"datum": 3.02}}
},
{
"data": {"values": [{}]},
"mark": {"type": "rect", "fill": "#ffff1a"},
"encoding": {"x": {"datum": 2.977, "type": "quantitative"}, "x2": {"datum": 5.45}, "y": {"datum": 3.206, "type": "quantitative"}, "y2": {"datum": 3.04}}
},
{
"data": {"values": [{}]},
"mark": {"type": "text", "text": "(2.515 ; 3.25)", "font": "Open Sans", "fontSize": 18, "color": "#111111", "align": "center", "baseline": "middle"},
"encoding": {"x": {"datum": 4.0, "type": "quantitative"}, "y": {"datum": 3.123, "type": "quantitative"}}
},
{
"data": {"values": [{}]},
"mark": {"type": "rect", "fill": "#9a9a9a", "opacity": 0.6, "clip": false},
"encoding": {"x": {"datum": 2.62, "type": "quantitative"}, "x2": {"datum": 11}, "y": {"datum": 2.93, "type": "quantitative"}, "y2": {"datum": 1.97}}
},
{
"data": {"values": [{}]},
"mark": {"type": "rect", "fill": "#f7f7f7", "stroke": "#cfcfcf", "strokeWidth": 1, "clip": false},
"encoding": {"x": {"datum": 2.575, "type": "quantitative"}, "x2": {"datum": 11}, "y": {"datum": 2.955, "type": "quantitative"}, "y2": {"datum": 2.003}}
},
{
"data": {"values": [{}]},
"mark": {"type": "text", "text": ["87", "f0=0.866854+/-0.147854", "A0=1.91361 [0.94676,3.88884]", "Category: Default"], "lineHeight": 25.7, "font": "Open Sans", "fontSize": 18, "color": "#6e6e6e", "align": "left", "baseline": "middle", "clip": false},
"encoding": {"x": {"datum": 2.683, "type": "quantitative"}, "y": {"datum": 2.801, "type": "quantitative"}}
},
{
"data": {"values": [{}]},
"mark": {"type": "rect", "fill": "#ffffff", "stroke": "#000000", "strokeWidth": 3, "clip": false},
"encoding": {"x": {"datum": 7.87, "type": "quantitative"}, "x2": {"datum": 8.775}, "y": {"datum": 4.974, "type": "quantitative"}, "y2": {"datum": 4.792}}
},
{
"data": {"values": [{}]},
"mark": {"type": "text", "text": "87", "font": "Open Sans", "fontSize": 16, "color": "#000000", "align": "center", "baseline": "middle", "clip": false},
"encoding": {"x": {"datum": 8.31, "type": "quantitative"}, "y": {"datum": 4.883, "type": "quantitative"}}
}
]
}
